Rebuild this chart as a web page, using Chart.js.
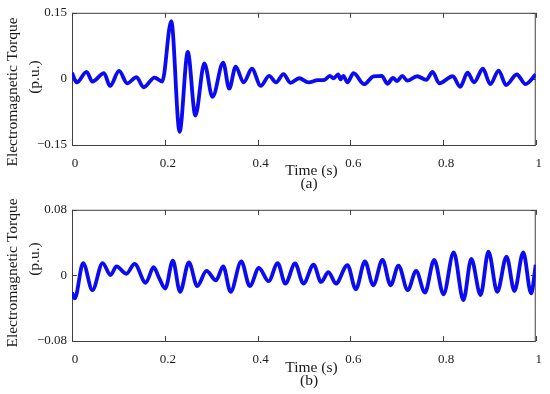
<!DOCTYPE html>
<html>
<head>
<meta charset="utf-8">
<script src="https://cdn.jsdelivr.net/npm/chart.js@4"></script>
<style>
  html, body { margin: 0; padding: 0; background: #fff; }
  .box { position: absolute; left: 0; width: 550px; height: 197px; }
</style>
</head>
<body>
<div class="box" style="top:0"><canvas id="torqueA"></canvas></div>
<div class="box" style="top:197px"><canvas id="torqueB"></canvas></div>
<script>
// (a) electromagnetic torque (time in s, torque in p.u.)
const timeA = [0, 0.010, 0.0315, 0.044, 0.069, 0.082, 0.1015, 0.119, 0.139, 0.1545, 0.178, 0.1945,
  0.214, 0.232, 0.2497, 0.266, 0.2854, 0.303, 0.326, 0.339, 0.353, 0.370, 0.388, 0.407, 0.425,
  0.440, 0.456, 0.471, 0.490, 0.510, 0.530, 0.545, 0.556, 0.564, 0.574, 0.579, 0.585, 0.594,
  0.607, 0.630, 0.650, 0.668, 0.680, 0.692, 0.701, 0.712, 0.723, 0.744, 0.764, 0.7775, 0.792,
  0.821, 0.837, 0.853, 0.867, 0.886, 0.902, 0.920, 0.936, 0.959, 0.978, 1.0];
const torqueA = [0.014, -0.008, 0.016, -0.006, 0.013, -0.016, 0.018, -0.010, 0.004, -0.019, 0.003, -0.006,
  0.131, -0.120, 0.061, -0.083, 0.035, -0.041, 0.037, -0.022, 0.028, -0.008, 0.023, -0.016, 0.007,
  -0.008, 0.011, -0.009, 0.0015, -0.008, -0.003, -0.002, 0.007, 0.0015, 0.010, -0.001, 0.007, -0.008,
  0.013, -0.012, 0.006, 0.007, -0.011, 0.002, -0.005, 0.007, -0.004, 0.006, -0.002, 0.016, -0.010,
  0.006, -0.018, 0.014, -0.008, 0.023, -0.012, 0.019, -0.014, 0.010, -0.012, 0.010];

// (b)
const timeB = [0, 0.006, 0.024, 0.044, 0.066, 0.083, 0.096, 0.117, 0.135, 0.159, 0.176, 0.187, 0.201,
  0.2175, 0.233, 0.252, 0.270, 0.290, 0.3105, 0.326, 0.342, 0.365, 0.3834, 0.403, 0.424, 0.4435,
  0.460, 0.481, 0.499, 0.521, 0.537, 0.553, 0.569, 0.594, 0.612, 0.6316, 0.6496, 0.6695, 0.687,
  0.704, 0.724, 0.742, 0.761, 0.781, 0.801, 0.823, 0.844, 0.861, 0.881, 0.898, 0.917, 0.937,
  0.954, 0.973, 0.990, 1.0];
const torqueB = [-0.021, -0.028, 0.015, -0.018, 0.015, 0.0005, 0.011, 0.002, 0.014, -0.009, 0.010, -0.002, -0.016,
  0.018, -0.020, 0.016, -0.013, 0.0055, -0.006, 0.011, -0.020, 0.017, -0.013, 0.009, -0.007, 0.015,
  -0.010, 0.0145, -0.010, 0.013, -0.008, 0.004, -0.010, 0.0126, -0.017, 0.017, -0.012, 0.019, -0.012,
  0.012, -0.018, 0.0055, -0.021, 0.019, -0.023, 0.028, -0.030, 0.020, -0.024, 0.029, -0.020, 0.023,
  -0.019, 0.028, -0.022, 0.013];

const timeTicks = [0, 0.2, 0.4, 0.6, 0.8, 1];
const torqueTicksA = [-0.15, 0, 0.15];
const torqueTicksB = [-0.08, 0, 0.08];

const xTitle = "Time (s)";
const yTitle = ["Electromagnetic Torque", "(p.u.)"];

const lineColor = "#0b0bf2";
const axisColor = "#404040";
const textColor = "#1a1a1a";
const serif = "'Liberation Serif', 'Times New Roman', serif";

function fmt(v) {
  return String(v).replace("-", "\u2212");
}

// box round the plot, ticks pointing inwards, and the titles
const framePlugin = {
  id: "frame",
  beforeDatasetsDraw(chart) {
    const { ctx, chartArea: a, scales } = chart;
    ctx.save();
    ctx.strokeStyle = axisColor;
    ctx.lineWidth = 1;
    ctx.strokeRect(a.left + 0.5, a.top + 0.5, a.right - a.left - 1, a.bottom - a.top);
    ctx.beginPath();
    scales.x.ticks.forEach(t => {
      const px = Math.round(scales.x.getPixelForValue(t.value)) + 0.5;
      ctx.moveTo(px, a.bottom); ctx.lineTo(px, a.bottom - 5);
      ctx.moveTo(px, a.top); ctx.lineTo(px, a.top + 5);
    });
    scales.y.ticks.forEach(t => {
      const py = Math.round(scales.y.getPixelForValue(t.value)) + 0.5;
      ctx.moveTo(a.left, py); ctx.lineTo(a.left + 5, py);
      ctx.moveTo(a.right, py); ctx.lineTo(a.right - 5, py);
    });
    ctx.stroke();
    ctx.restore();
  },
  afterDraw(chart) {
    const o = chart.options.plugins.frame;
    const ctx = chart.ctx;
    ctx.save();
    ctx.fillStyle = textColor;
    ctx.font = "15.5px " + serif;
    ctx.textAlign = "center";
    ctx.textBaseline = "middle";
    ctx.fillText(xTitle, 311.5, 171);
    ctx.fillText(o.caption, 309, 183.5);
    ctx.translate(13, o.titleY1);
    ctx.rotate(-Math.PI / 2);
    ctx.fillText(yTitle[0], 0, 0);
    ctx.rotate(Math.PI / 2);
    ctx.translate(21.5, o.titleY2 - o.titleY1);
    ctx.rotate(-Math.PI / 2);
    ctx.fillText(yTitle[1], 0, 0);
    ctx.restore();
  }
};

function makeChart(id, times, values, yTicks, caption, top, bottom, titleY1, titleY2) {
  const points = times.map((t, i) => ({ x: t, y: values[i] }));
  return new Chart(document.getElementById(id), {
    type: "line",
    data: {
      datasets: [{
        data: points,
        borderColor: lineColor,
        borderWidth: 3.8,
        pointRadius: 0,
        cubicInterpolationMode: "monotone",
        fill: false
      }]
    },
    options: {
      responsive: true,
      maintainAspectRatio: false,
      animation: false,
      layout: { padding: { left: 0, right: 12, top: top, bottom: 0 } },
      plugins: {
        legend: { display: false },
        tooltip: { enabled: false },
        frame: { caption: caption, titleY1: titleY1, titleY2: titleY2 }
      },
      scales: {
        x: {
          type: "linear",
          min: 0,
          max: 1,
          afterBuildTicks: s => { s.ticks = timeTicks.map(v => ({ value: v })); },
          afterFit: s => { s.height = 197 - bottom; },
          grid: { display: false, drawTicks: false },
          border: { display: false },
          ticks: {
            callback: v => fmt(v),
            color: textColor,
            font: { family: serif, size: 13 },
            padding: 11,
            labelOffset: 3,
            maxRotation: 0
          }
        },
        y: {
          min: yTicks[0],
          max: yTicks[yTicks.length - 1],
          afterBuildTicks: s => { s.ticks = yTicks.map(v => ({ value: v })); },
          afterFit: s => { s.width = 72; },
          grid: { display: false, drawTicks: false },
          border: { display: false },
          ticks: {
            callback: v => fmt(v),
            color: textColor,
            font: { family: serif, size: 13 },
            padding: 5
          }
        }
      }
    },
    plugins: [framePlugin]
  });
}

makeChart("torqueA", timeA, torqueA, torqueTicksA, "(a)", 10, 145, 92, 77);
makeChart("torqueB", timeB, torqueB, torqueTicksB, "(b)", 8, 144, 76, 62);
</script>
</body>
</html>
